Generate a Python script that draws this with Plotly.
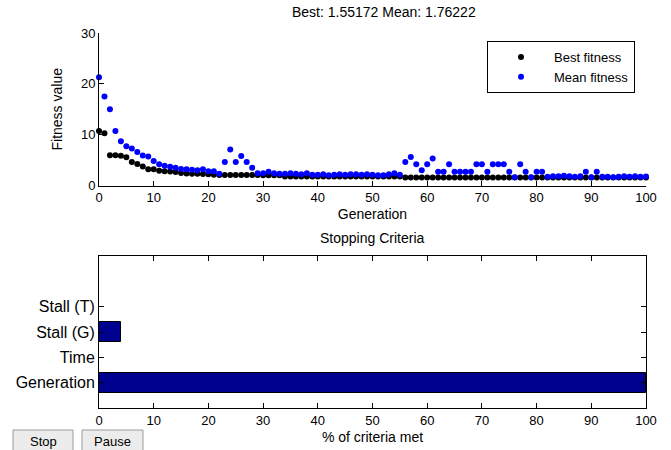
import plotly.graph_objects as go

generations = list(range(0, 101))
best_fitness = [
    10.7, 10.3, 5.95, 5.95, 5.85, 5.55, 4.6, 4.25, 3.75, 3.2,
    3.2, 2.9, 2.8, 2.75, 2.65, 2.45, 2.35, 2.3, 2.3, 2.25,
    2.2, 2.1, 2.05, 2.05, 2.05, 2.05, 2.05, 2.05, 2.05, 2.05,
    2.0, 2.0, 2.0, 2.0, 1.75, 1.75, 1.75, 1.75, 1.75, 1.75,
    1.75, 1.75, 1.75, 1.75, 1.75, 1.75, 1.75, 1.75, 1.75, 1.75,
    1.75, 1.75, 1.75, 1.75, 1.75, 1.75, 1.55172, 1.55172, 1.55172, 1.55172,
    1.55172, 1.55172, 1.55172, 1.55172, 1.55172, 1.55172, 1.55172, 1.55172, 1.55172, 1.55172,
    1.55172, 1.55172, 1.55172, 1.55172, 1.55172, 1.55172, 1.55172, 1.55172, 1.55172, 1.55172,
    1.55172, 1.55172, 1.55172, 1.55172, 1.55172, 1.55172, 1.55172, 1.55172, 1.55172, 1.55172,
    1.55172, 1.55172, 1.55172, 1.55172, 1.55172, 1.55172, 1.55172, 1.55172, 1.55172, 1.55172,
    1.55172,
]
mean_fitness = [
    21.3, 17.5, 15.0, 10.7, 8.7, 7.7, 7.3, 6.6, 5.9, 5.7,
    4.8, 4.2, 3.9, 3.7, 3.5, 3.25, 3.2, 3.1, 3.0, 3.2,
    2.8, 2.8, 2.3, 4.6, 7.1, 4.6, 5.8, 4.6, 3.5, 2.4,
    2.4, 2.7, 2.4, 2.3, 2.3, 2.4, 2.3, 2.2, 2.4, 2.1,
    2.1, 2.2, 2.0, 2.1, 2.2, 2.1, 2.2, 2.2, 2.1, 2.2,
    2.1, 2.0, 2.0, 2.2, 2.4, 2.1, 4.6, 5.6, 4.2, 3.0,
    4.2, 5.3, 2.7, 2.7, 4.2, 2.7, 2.7, 2.7, 2.7, 4.2,
    4.2, 2.7, 4.2, 4.2, 4.2, 2.7, 1.6, 4.2, 2.7, 1.6,
    2.7, 2.7, 1.7, 1.8, 1.8, 1.9, 1.8, 1.7, 1.8, 2.7,
    1.6, 2.7, 1.7, 1.7, 1.6, 1.7, 1.8, 1.7, 1.8, 1.7,
    1.76222,
]
criteria = ["Generation", "Time", "Stall (G)", "Stall (T)"]
criteria_pos = [1, 2, 3, 4]
criteria_pct = [100, 0, 4, 0]
x_ticks = list(range(0, 101, 10))
y_ticks_top = [0, 10, 20, 30]

W, H = 671, 450
FONT = "Liberation Sans, Arial, Helvetica, sans-serif"

def px_x(p):
    return p / W

def px_y(p):
    return 1 - p / H

fig = go.Figure()
fig.add_trace(go.Scatter(
    x=generations, y=best_fitness, mode="markers", name="Best fitness",
    marker=dict(color="black", size=6), cliponaxis=False,
    xaxis="x", yaxis="y",
))
fig.add_trace(go.Scatter(
    x=generations, y=mean_fitness, mode="markers", name="Mean fitness",
    marker=dict(color="#0000ff", size=6), cliponaxis=False,
    xaxis="x", yaxis="y",
))
fig.add_trace(go.Bar(
    x=criteria_pct, y=criteria_pos, orientation="h", width=0.8,
    marker=dict(color="rgb(0,0,143)", line=dict(color="black", width=1)),
    showlegend=False, xaxis="x2", yaxis="y2",
))

xdom = [px_x(99), px_x(646)]
axis_common = dict(
    showgrid=False, zeroline=False, showline=True, linecolor="black", linewidth=1,
    ticks="inside", ticklen=5, tickcolor="black", tickfont=dict(size=13, color="black"),
    automargin=False,
)

fig.update_layout(
    width=W, height=H,
    margin=dict(l=0, r=0, t=0, b=0, autoexpand=False),
    paper_bgcolor="white", plot_bgcolor="white",
    font=dict(family=FONT, size=13, color="black"),
    xaxis=dict(domain=xdom, range=[0, 100], tickvals=x_ticks, anchor="y",
               title=dict(text="Generation", standoff=5, font=dict(size=14)), **axis_common),
    yaxis=dict(domain=[px_y(185.5), px_y(33)], range=[0, 30], tickvals=y_ticks_top, anchor="x",
               title=dict(text="Fitness value", standoff=15, font=dict(size=14)), **axis_common),
    xaxis2=dict(domain=xdom, range=[0, 100], tickvals=x_ticks, anchor="y2", mirror="allticks",
                title=dict(text="% of criteria met", standoff=5, font=dict(size=14)), **axis_common),
    yaxis2=dict(domain=[px_y(408), px_y(256)], range=[0, 6], tickvals=criteria_pos,
                ticktext=criteria, anchor="x2", mirror="allticks",
                **{**axis_common, "tickfont": dict(size=16, color="black")}),
    legend=dict(x=px_x(487), y=px_y(41), xanchor="left", yanchor="top",
                bordercolor="black", borderwidth=1, bgcolor="white",
                font=dict(size=13), itemwidth=56, tracegroupgap=0),
    showlegend=True,
    bargap=0,
)

fig.add_annotation(text="Best: 1.55172 Mean: 1.76222", x=px_x(384), y=px_y(12),
                   xref="paper", yref="paper", showarrow=False, font=dict(size=14),
                   xanchor="center", yanchor="middle")
fig.add_annotation(text="Stopping Criteria", x=px_x(372), y=px_y(238),
                   xref="paper", yref="paper", showarrow=False, font=dict(size=14),
                   xanchor="center", yanchor="middle")

# GUI buttons
for x0, x1, label in [(13, 73, "Stop"), (82, 143, "Pause")]:
    fig.add_shape(type="rect", xref="paper", yref="paper",
                  x0=px_x(x0), x1=px_x(x1), y0=px_y(452), y1=px_y(430),
                  fillcolor="#ececec", line=dict(color="#9a9a9a", width=1))
    fig.add_annotation(text=label, x=px_x((x0 + x1) / 2), y=px_y(441),
                       xref="paper", yref="paper", showarrow=False, font=dict(size=13),
                       xanchor="center", yanchor="middle")

fig.write_html("out.html",
               config={"displayModeBar": False},
               post_script="document.body.style.margin='0';document.body.style.overflow='hidden';")
